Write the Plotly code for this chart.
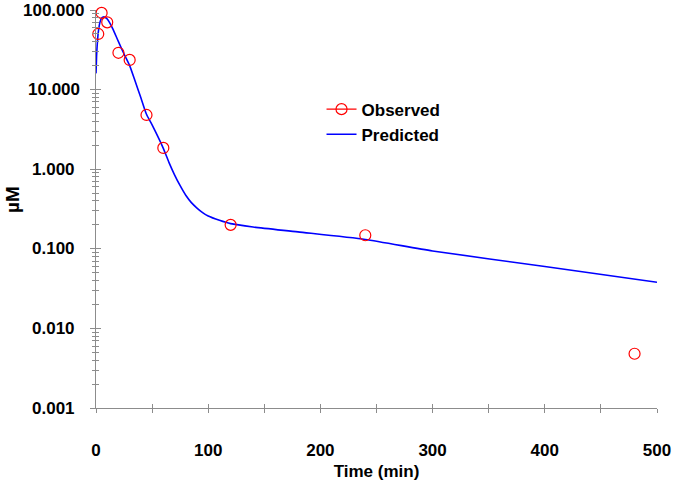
import math
import plotly.graph_objects as go

# Observed data
obs_t = [2, 5, 10, 20, 30, 45, 60, 120, 240, 480]
obs_c = [50, 92, 70, 29, 23.6, 4.8, 1.85, 0.20, 0.148, 0.0048]

# Predicted curve
pred_t = [0, 0.5, 1, 2, 3, 4, 5, 6, 7, 8, 10, 12, 15, 20, 25, 30, 35, 40, 45, 50,
          60, 65, 70, 75, 80, 85, 90, 95, 100, 110, 120, 140, 180, 240, 300, 400, 500]
pred_c = [16, 26, 35, 52, 65, 74, 79, 81, 82, 81, 77, 70, 58, 40, 28, 20, 12.6, 7.9,
          4.9, 3.6, 1.83, 1.22, 0.85, 0.62, 0.47, 0.38, 0.325, 0.285, 0.258, 0.228,
          0.207, 0.188, 0.163, 0.131, 0.094, 0.060, 0.038]

x_tickvals = [0, 50, 100, 150, 200, 250, 300, 350, 400, 450, 500]
x_ticktext = ["0", "", "100", "", "200", "", "300", "", "400", "", "500"]
y_tickvals = [0.001, 0.01, 0.1, 1, 10, 100]
y_ticktext = ["0.001", "0.010", "0.100", "1.000", "10.000", "100.000"]
y_minor = [m * d for d in [0.001, 0.01, 0.1, 1, 10] for m in range(2, 10)]

FONT = "Liberation Sans, Arial, sans-serif"
GREY = "#8c8c8c"

fig = go.Figure()
fig.add_trace(go.Scatter(
    x=pred_t, y=pred_c, mode="lines", name="Predicted",
    line=dict(color="#0000FF", width=1.6, shape="spline", smoothing=0.6),
    showlegend=False, cliponaxis=False))
fig.add_trace(go.Scatter(
    x=obs_t, y=obs_c, mode="markers", name="Observed", showlegend=False,
    cliponaxis=False,
    marker=dict(symbol="circle-open", size=11, color="#FF0000", line=dict(width=1.2))))
# legend entries
fig.add_trace(go.Scatter(
    x=[None], y=[None], mode="lines+markers", name="Observed",
    line=dict(color="#FF0000", width=1.2),
    marker=dict(symbol="circle-open", size=11, color="#FF0000", line=dict(width=1.2))))
fig.add_trace(go.Scatter(
    x=[None], y=[None], mode="lines", name="Predicted",
    line=dict(color="#0000FF", width=1.6)))

common = dict(showgrid=False, zeroline=False, automargin=False)

fig.update_layout(
    width=675, height=485,
    margin=dict(l=96, r=18, t=10, b=77),
    paper_bgcolor="white", plot_bgcolor="white",
    font=dict(family=FONT, size=17, color="black"),
    legend=dict(x=0.402, y=0.795, xanchor="left", yanchor="top",
                bgcolor="rgba(0,0,0,0)",
                font=dict(size=17, family=FONT, weight="bold"),
                tracegroupgap=0, itemwidth=30),
    xaxis=dict(
        range=[0, 500], tickvals=x_tickvals, ticktext=x_ticktext,
        showline=True, linecolor=GREY, linewidth=1,
        ticks="outside", ticklen=4, tickcolor=GREY,
        ticklabelstandoff=23,
        tickfont=dict(family=FONT, size=17, color="black", weight="bold"),
        title=dict(text="<b>Time (min)</b>", font=dict(size=17), standoff=5),
        **common),
    yaxis=dict(
        type="log", range=[-3, 2], tickvals=y_tickvals, showticklabels=False,
        showline=True, linecolor=GREY, linewidth=1,
        ticks="outside", ticklen=5, tickcolor=GREY,
        minor=dict(ticks="outside", ticklen=3, tickcolor=GREY, tickvals=y_minor,
                   showgrid=False),
        **common),
    # overlay axes to make the tick marks cross the axis lines
    xaxis2=dict(range=[0, 500], overlaying="x", tickvals=x_tickvals,
                showticklabels=False, showline=False, ticks="inside", ticklen=4,
                tickcolor=GREY, side="bottom", anchor="y2", **common),
    yaxis2=dict(type="log", range=[-3, 2], overlaying="y", tickvals=y_tickvals,
                showticklabels=False, showline=False, ticks="inside", ticklen=5,
                tickcolor=GREY, anchor="x2",
                minor=dict(ticks="inside", ticklen=3, tickcolor=GREY, tickvals=y_minor,
                           showgrid=False),
                **common),
)
# dummy trace to activate overlay axes
fig.add_trace(go.Scatter(x=[None], y=[None], xaxis="x2", yaxis="y2",
                         showlegend=False, hoverinfo="skip"))

# y tick labels, centred as in the reference
for v, t in zip(y_tickvals, y_ticktext):
    fig.add_annotation(text=f"<b>{t}</b>", xref="paper", yref="y", x=-0.075,
                       y=math.log10(v),
                       xanchor="center", yanchor="middle", showarrow=False,
                       font=dict(family=FONT, size=17, color="black"))

fig.add_annotation(
    text="<b>µM</b>", xref="paper", yref="paper", x=-0.1497, y=0.5226,
    xanchor="center", yanchor="middle",
    textangle=-90, showarrow=False, font=dict(family=FONT, size=19, color="black"))

fig.write_html(
    "out.html",
    config={"displayModeBar": False},
    post_script="document.body.style.margin='0';document.body.style.overflow='hidden';")
